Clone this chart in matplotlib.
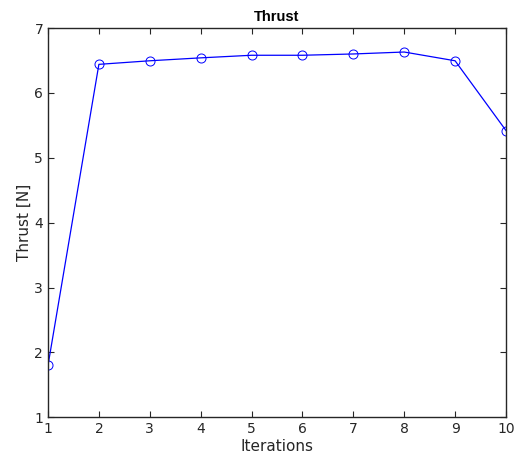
import matplotlib
matplotlib.use('Agg')
import matplotlib.pyplot as plt

# Thrust per iteration
iterations = [1, 2, 3, 4, 5, 6, 7, 8, 9, 10]
thrust = [1.80, 6.44, 6.495, 6.54, 6.58, 6.58, 6.60, 6.63, 6.495, 5.42]

fig = plt.figure(figsize=(5.24, 4.63), dpi=100)
ax = fig.add_axes([0.0916, 0.0987, 0.874, 0.8408])

ax.plot(iterations, thrust, color='blue', linewidth=0.9, marker='o',
        markersize=6.5, markerfacecolor='none', markeredgecolor='blue',
        markeredgewidth=0.7)

ax.set_xlim(1, 10)
ax.set_ylim(1, 7)
ax.set_xticks(range(1, 11))
ax.set_yticks(range(1, 8))
ax.tick_params(direction='in', top=True, right=True, length=4,
               labelsize=10, color='#262626', labelcolor='#262626')
for s in ax.spines.values():
    s.set_color('#262626')
    s.set_linewidth(1.0)

ax.set_xlabel('Iterations', fontsize=11, color='#262626', labelpad=2)
ax.set_ylabel('Thrust [N]', fontsize=11, color='#262626', labelpad=2)
ax.set_title('Thrust', fontsize=10.5, fontweight='bold', pad=5,
             family='Liberation Sans')

fig.savefig('out.png', dpi=100)
